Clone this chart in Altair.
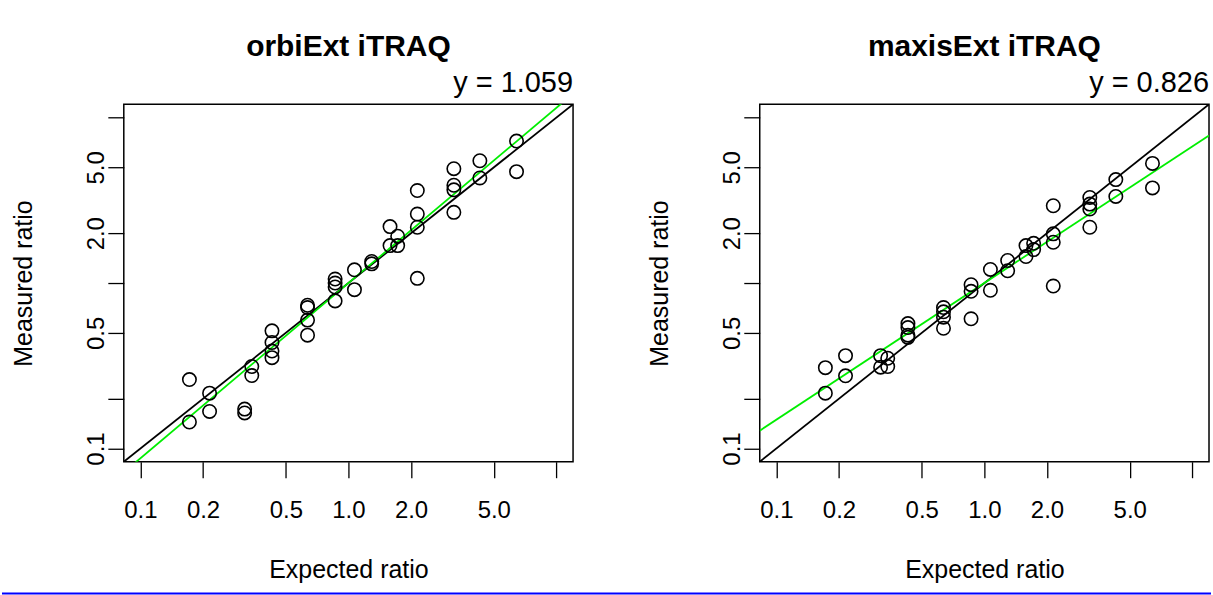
import math

import altair as alt
import pandas as pd

# Expected (spiked) ratios, one entry per group of replicate measurements
EXPECTED = [0.172, 0.215, 0.317, 0.343, 0.429, 0.636, 0.863, 1.069,
            1.294, 1.585, 1.725, 2.144, 3.213, 4.285, 6.43]

# Measured ratios, grouped in the same order as EXPECTED
ORBI_MEASURED = [
    [0.261, 0.1445],
    [0.216, 0.1675],
    [0.173, 0.164],
    [0.313, 0.276],
    [0.514, 0.437, 0.388, 0.354],
    [0.734, 0.711, 0.597, 0.484],
    [1.057, 1.000, 0.946, 0.780],
    [1.202, 0.912],
    [1.349, 1.306],
    [2.193, 1.683],
    [1.919, 1.683],
    [3.622, 2.612, 2.173, 1.067],
    [4.909, 3.899, 3.656, 2.673],
    [5.483, 4.315],
    [7.211, 4.710],
]
MAXIS_MEASURED = [
    [0.308, 0.216],
    [0.364, 0.275],
    [0.364, 0.310],
    [0.351, 0.313],
    [0.569, 0.538, 0.484, 0.469],
    [0.711, 0.670, 0.622, 0.533],
    [0.977, 0.891, 0.608],
    [1.208, 0.904],
    [1.368, 1.186],
    [1.683, 1.445],
    [1.738, 1.592],
    [2.930, 1.982, 1.764, 0.959],
    [3.289, 2.999, 2.799, 2.173],
    [4.217, 3.337],
    [5.285, 3.758],
]

# Fitted log-log slopes of measured vs expected
PANELS = [
    ("orbiExt iTRAQ", 1.059, ORBI_MEASURED),
    ("maxisExt iTRAQ", 0.826, MAXIS_MEASURED),
]

# Axis ticks and which of them carry a label
X_TICKS = [0.1, 0.2, 0.5, 1, 2, 5, 10]
X_LABELED = [0.1, 0.2, 0.5, 1, 2, 5]
Y_TICKS = [0.1, 0.2, 0.5, 1, 2, 5, 10]
Y_LABELED = [0.1, 0.5, 2, 5]

LIMITS = [0.1, 10]

FONT = "Liberation Sans"
W, H = 450, 358
LEFT, TOP = 123, 103
PAGE_W, PAGE_H = 1213, 595

# log axis range padded by 4% on each side
_lo, _hi = math.log10(LIMITS[0]), math.log10(LIMITS[1])
_pad = 0.04 * (_hi - _lo)
DOMAIN = [10 ** (_lo - _pad), 10 ** (_hi + _pad)]


def label_expr(labeled):
    vals = ",".join(repr(float(v)) for v in labeled)
    return f"indexof([{vals}], datum.value) >= 0 ? format(datum.value, '.1f') : ''"


def make_panel(title, slope, measured, first):
    rows = [(e, m) for e, ms in zip(EXPECTED, measured) for m in ms]
    pts = pd.DataFrame(rows, columns=["expected", "measured"])

    xs = alt.Scale(type="log", domain=DOMAIN, nice=False, zero=False)
    ys = alt.Scale(type="log", domain=DOMAIN, nice=False, zero=False)

    x_axis = alt.Axis(
        values=X_TICKS, labelExpr=label_expr(X_LABELED), grid=False, domain=False,
        tickSize=16, tickWidth=1.3, tickColor="black",
        labelFont=FONT, labelFontSize=24, labelColor="black",
        labelBaseline="alphabetic", labelAlign="center", labelPadding=40,
        labelFlush=False, labelOverlap=False,
        title="Expected ratio", titleFont=FONT, titleFontSize=25,
        titleFontWeight="normal", titleColor="black",
        titleX=W / 2, titleY=116, titleAlign="center", titleBaseline="alphabetic",
    )
    y_axis = alt.Axis(
        values=Y_TICKS, labelExpr=label_expr(Y_LABELED), grid=False, domain=False,
        tickSize=16, tickWidth=1.3, tickColor="black",
        labelFont=FONT, labelFontSize=24, labelColor="black",
        labelAngle=270, labelAlign="center", labelBaseline="alphabetic",
        labelPadding=4, labelFlush=False, labelOverlap=False,
        title="Measured ratio", titleFont=FONT, titleFontSize=25,
        titleFontWeight="normal", titleColor="black",
        titleAngle=270, titleX=-92, titleY=H / 2,
        titleAlign="center", titleBaseline="alphabetic",
    )

    points = alt.Chart(pts).mark_point(
        shape="circle", filled=False, size=180, stroke="black",
        strokeWidth=1.6, opacity=1,
    ).encode(
        x=alt.X("expected:Q", scale=xs, axis=x_axis),
        y=alt.Y("measured:Q", scale=ys, axis=y_axis),
    )

    ident = pd.DataFrame({"x": DOMAIN, "y": DOMAIN})
    ident_line = alt.Chart(ident).mark_line(
        color="black", strokeWidth=1.8, clip=True
    ).encode(x=alt.X("x:Q", scale=xs), y=alt.Y("y:Q", scale=ys))

    fit = pd.DataFrame({"x": DOMAIN, "y": [v ** slope for v in DOMAIN]})
    fit_line = alt.Chart(fit).mark_line(
        color="#00ee00", strokeWidth=1.8, clip=True
    ).encode(x=alt.X("x:Q", scale=xs), y=alt.Y("y:Q", scale=ys))

    heading = alt.Chart(pd.DataFrame({"t": [title]})).mark_text(
        font=FONT, fontSize=30, fontWeight="bold", color="black",
        align="center", baseline="alphabetic",
    ).encode(text="t:N", x=alt.value(W / 2), y=alt.value(-48))

    slope_txt = alt.Chart(pd.DataFrame({"t": [f"y = {slope:.3f}"]})).mark_text(
        font=FONT, fontSize=29, color="black",
        align="right", baseline="alphabetic",
    ).encode(text="t:N", x=alt.value(W), y=alt.value(-12))

    layers = [ident_line, fit_line, points, heading, slope_txt]

    if first:
        # page edges: white rule along the top, blue rule along the bottom
        edge = pd.DataFrame({"k": [0]})
        top_rule = alt.Chart(edge).mark_rule(color="white", strokeWidth=0.2).encode(
            x=alt.value(-LEFT), x2=alt.value(PAGE_W - LEFT), y=alt.value(-TOP)
        )
        bottom_rule = alt.Chart(edge).mark_rule(color="#0000ff", strokeWidth=2).encode(
            x=alt.value(-LEFT + 1), x2=alt.value(PAGE_W - LEFT - 1),
            y=alt.value(593 - TOP),
        )
        layers = [top_rule, bottom_rule] + layers

    return alt.layer(*layers).properties(width=W, height=H)


panels = [make_panel(t, s, m, i == 0) for i, (t, s, m) in enumerate(PANELS)]

chart = alt.hconcat(*panels, spacing=187, bounds="flush").properties(
    padding=0, background="white"
).configure_view(stroke="black", strokeWidth=1.5)

chart.save("out.html", embed_options={"renderer": "svg", "actions": False})
